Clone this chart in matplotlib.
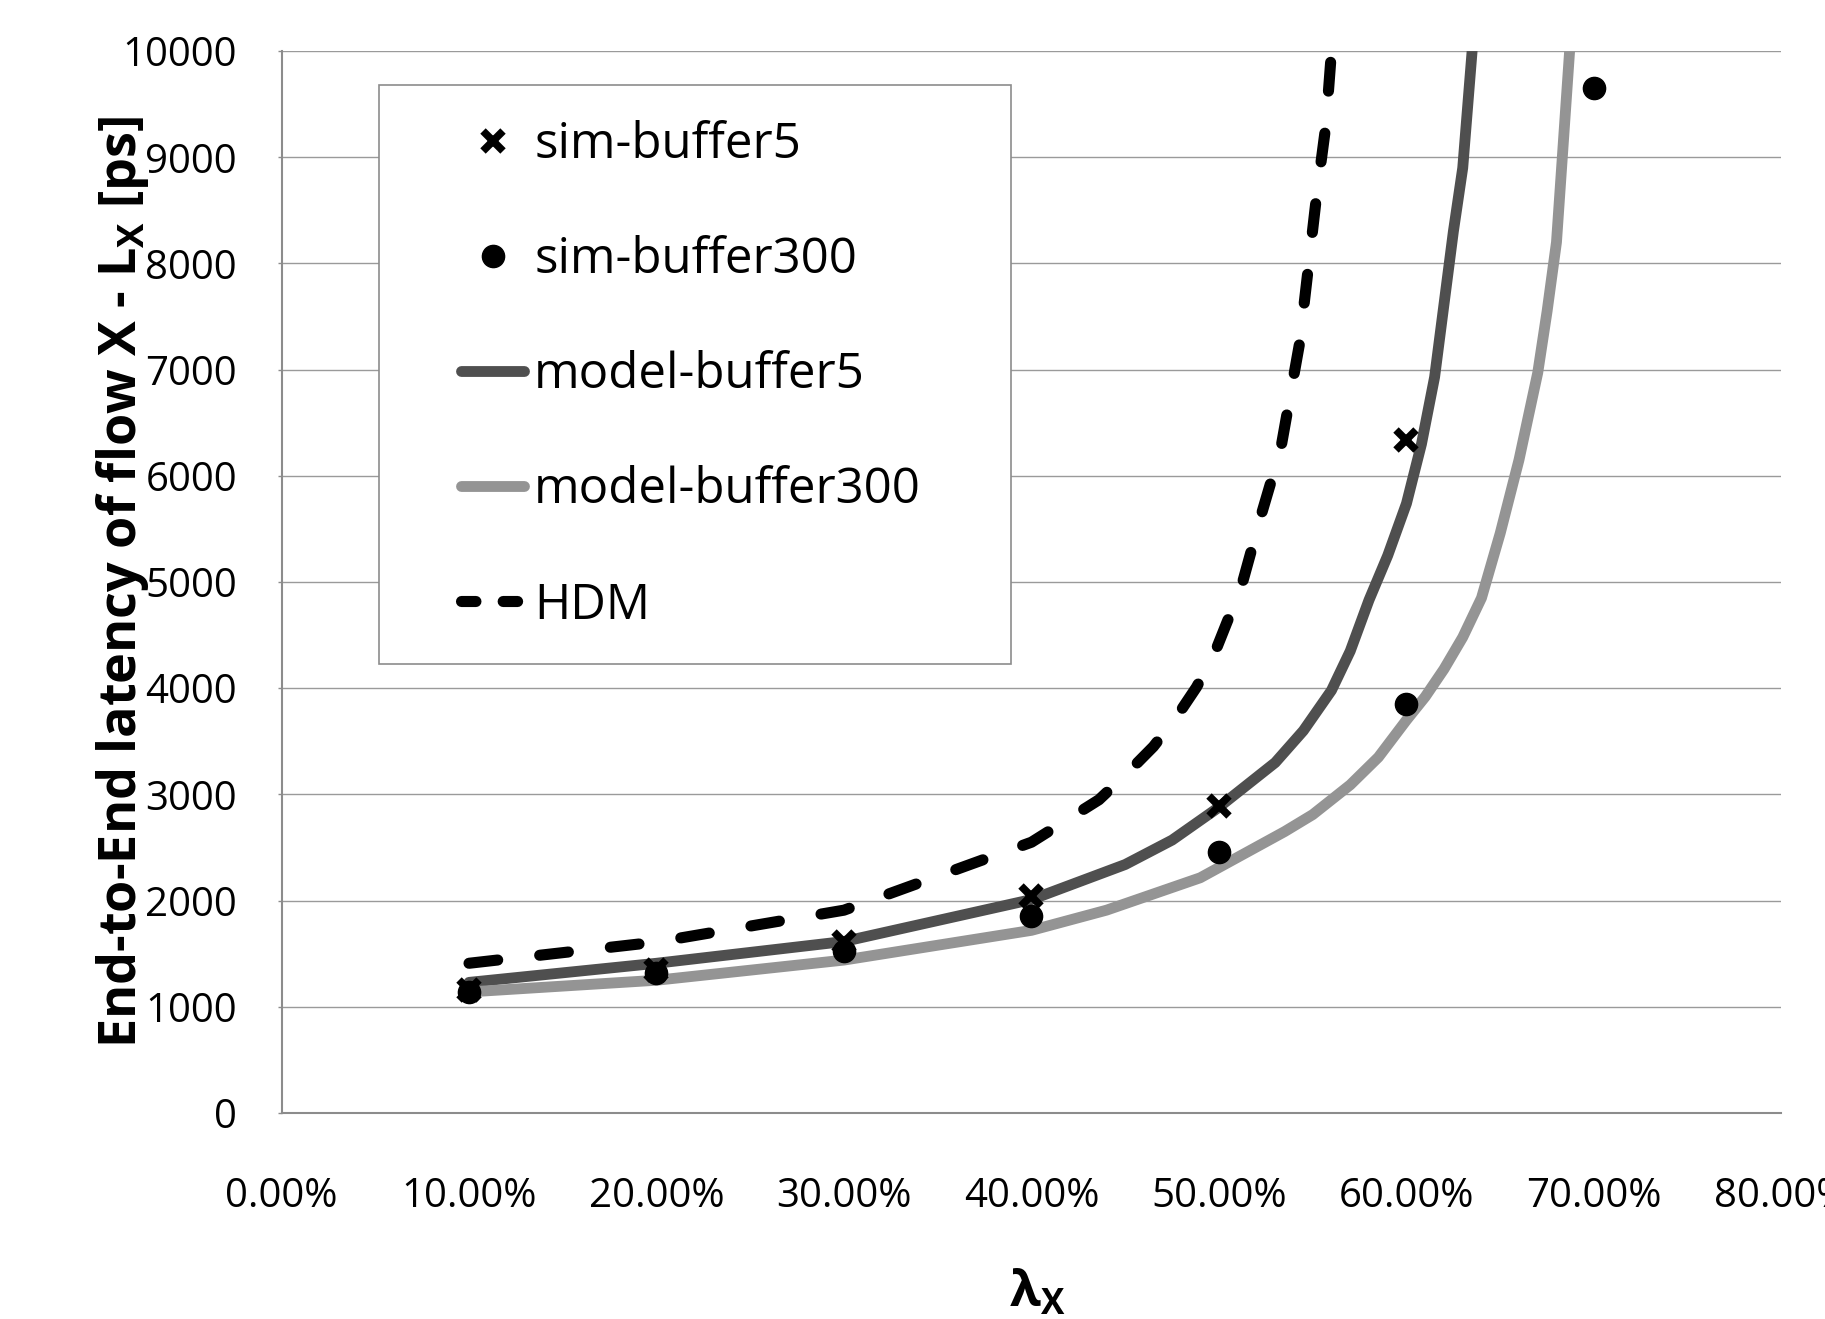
import matplotlib
matplotlib.use('Agg')
import matplotlib.pyplot as plt
from matplotlib.patches import Rectangle
from matplotlib.legend_handler import HandlerLine2D

plt.rcParams['font.family'] = ['Open Sans', 'DejaVu Sans']
plt.rcParams['mathtext.fontset'] = 'custom'
plt.rcParams['mathtext.rm'] = 'Open Sans'
plt.rcParams['mathtext.bf'] = 'Open Sans:bold'
plt.rcParams['mathtext.it'] = 'Open Sans:italic'

# ---------------- data ----------------
x_ticks = [0.0, 0.1, 0.2, 0.3, 0.4, 0.5, 0.6, 0.7, 0.8]
x_tick_labels = ['0.00%', '10.00%', '20.00%', '30.00%', '40.00%',
                 '50.00%', '60.00%', '70.00%', '80.00%']
y_ticks = [0, 1000, 2000, 3000, 4000, 5000, 6000, 7000, 8000, 9000, 10000]

sim_b5_x = [0.10, 0.20, 0.30, 0.40, 0.50, 0.60]
sim_b5_y = [1160, 1350, 1610, 2040, 2890, 6335]

sim_b300_x = [0.10, 0.20, 0.30, 0.40, 0.50, 0.60, 0.70]
sim_b300_y = [1140, 1320, 1530, 1855, 2455, 3850, 9650]

model_b5_x = [0.10, 0.20, 0.30, 0.40, 0.45, 0.475, 0.50, 0.53, 0.545, 0.56,
              0.57, 0.58, 0.59, 0.60, 0.608, 0.615, 0.625, 0.630, 0.635]
model_b5_y = [1230, 1410, 1615, 2010, 2340, 2570, 2880, 3300, 3600, 3980,
              4350, 4830, 5250, 5740, 6300, 6930, 8300, 8900, 10000]

model_b300_x = [0.10, 0.20, 0.30, 0.40, 0.44, 0.49, 0.535, 0.55, 0.57, 0.585,
                0.60, 0.61, 0.62, 0.63, 0.64, 0.65, 0.66, 0.67, 0.675, 0.68, 0.687]
model_b300_y = [1140, 1250, 1440, 1720, 1910, 2215, 2650, 2810, 3090, 3350,
                3700, 3920, 4180, 4480, 4850, 5460, 6150, 6970, 7550, 8200, 10000]

hdm_x = [0.10, 0.20, 0.30, 0.40, 0.436, 0.451, 0.465, 0.477, 0.488,
         0.497, 0.504, 0.512, 0.522, 0.533, 0.543, 0.552, 0.557, 0.560]
hdm_y = [1410, 1610, 1910, 2550, 2950, 3200, 3450, 3720, 4010,
         4300, 4610, 4960, 5600, 6260, 7250, 8630, 9300, 10000]

labels = ['sim-buffer5', 'sim-buffer300', 'model-buffer5', 'model-buffer300', 'HDM']

# ---------------- figure ----------------
fig = plt.figure(figsize=(18.25, 13.19), dpi=100)
ax = fig.add_axes([0.15425, 0.15618, 0.8219, 0.8051])

dark = '#4f4f4f'
light = '#949494'

l_m5, = ax.plot(model_b5_x, model_b5_y, color=dark, lw=7.8,
                solid_capstyle='round', solid_joinstyle='round',
                label=labels[2], zorder=3)
l_m300, = ax.plot(model_b300_x, model_b300_y, color=light, lw=7.8,
                  solid_capstyle='round', solid_joinstyle='round',
                  label=labels[3], zorder=3)
l_hdm, = ax.plot(hdm_x, hdm_y, color='black', lw=8, dashes=(2.6, 3.8),
                 dash_capstyle='round', dash_joinstyle='round',
                 label=labels[4], zorder=3)
l_s5, = ax.plot(sim_b5_x, sim_b5_y, ls='none', marker='x', ms=15, mew=5.5,
                color='black', label=labels[0], zorder=6)
l_s300, = ax.plot(sim_b300_x, sim_b300_y, ls='none', marker='o', ms=16,
                  color='black', label=labels[1], zorder=6)

ax.set_xlim(0, 0.8)
ax.set_ylim(0, 10000)
ax.set_xticks(x_ticks)
ax.set_xticklabels(x_tick_labels)
ax.set_yticks(y_ticks)
ax.set_yticklabels([str(v) for v in y_ticks])

ax.yaxis.grid(True, color='#9a9a9a', lw=1.0)
ax.xaxis.grid(False)
ax.set_axisbelow(True)
for s in ['top', 'right']:
    ax.spines[s].set_visible(False)
for s in ['left', 'bottom']:
    ax.spines[s].set_color('#8c8c8c')
    ax.spines[s].set_linewidth(1.5)

ax.tick_params(axis='y', length=3, width=1, color='#8c8c8c', pad=29, labelsize=29)
ax.tick_params(axis='x', length=0, pad=46, labelsize=29)

ax.set_ylabel(r'End-to-End latency of flow X - L$_\mathbf{X}$ [ps]',
              fontsize=37.5, fontweight='bold')
ax.yaxis.label.set_verticalalignment('center')
ax.yaxis.set_label_coords(-0.106, 0.5)

ax.set_xlabel(r'λ$_\mathbf{X}$', fontsize=36, fontweight='bold')
ax.xaxis.set_label_coords(0.504, -0.147)

# legend frame
frame = Rectangle((0.0648, 0.4231), 0.4215, 0.5446, transform=ax.transAxes,
                  facecolor='white', edgecolor='#8c8c8c', lw=1.2, zorder=4)
ax.add_patch(frame)


def hdm_update(legend_handle, orig_handle):
    legend_handle.update_from(orig_handle)
    legend_handle.set_dashes((1.3, 2.45))


leg = ax.legend([l_s5, l_s300, l_m5, l_m300, l_hdm], labels,
                loc='upper left', bbox_to_anchor=(0.1198, 0.9344),
                borderaxespad=0, borderpad=0, frameon=False, fontsize=35.5,
                handlelength=1.28, handletextpad=0.2, labelspacing=1.33,
                numpoints=1,
                handler_map={l_hdm: HandlerLine2D(update_func=hdm_update)})
leg.set_zorder(7)

fig.savefig('out.png', dpi=100)
